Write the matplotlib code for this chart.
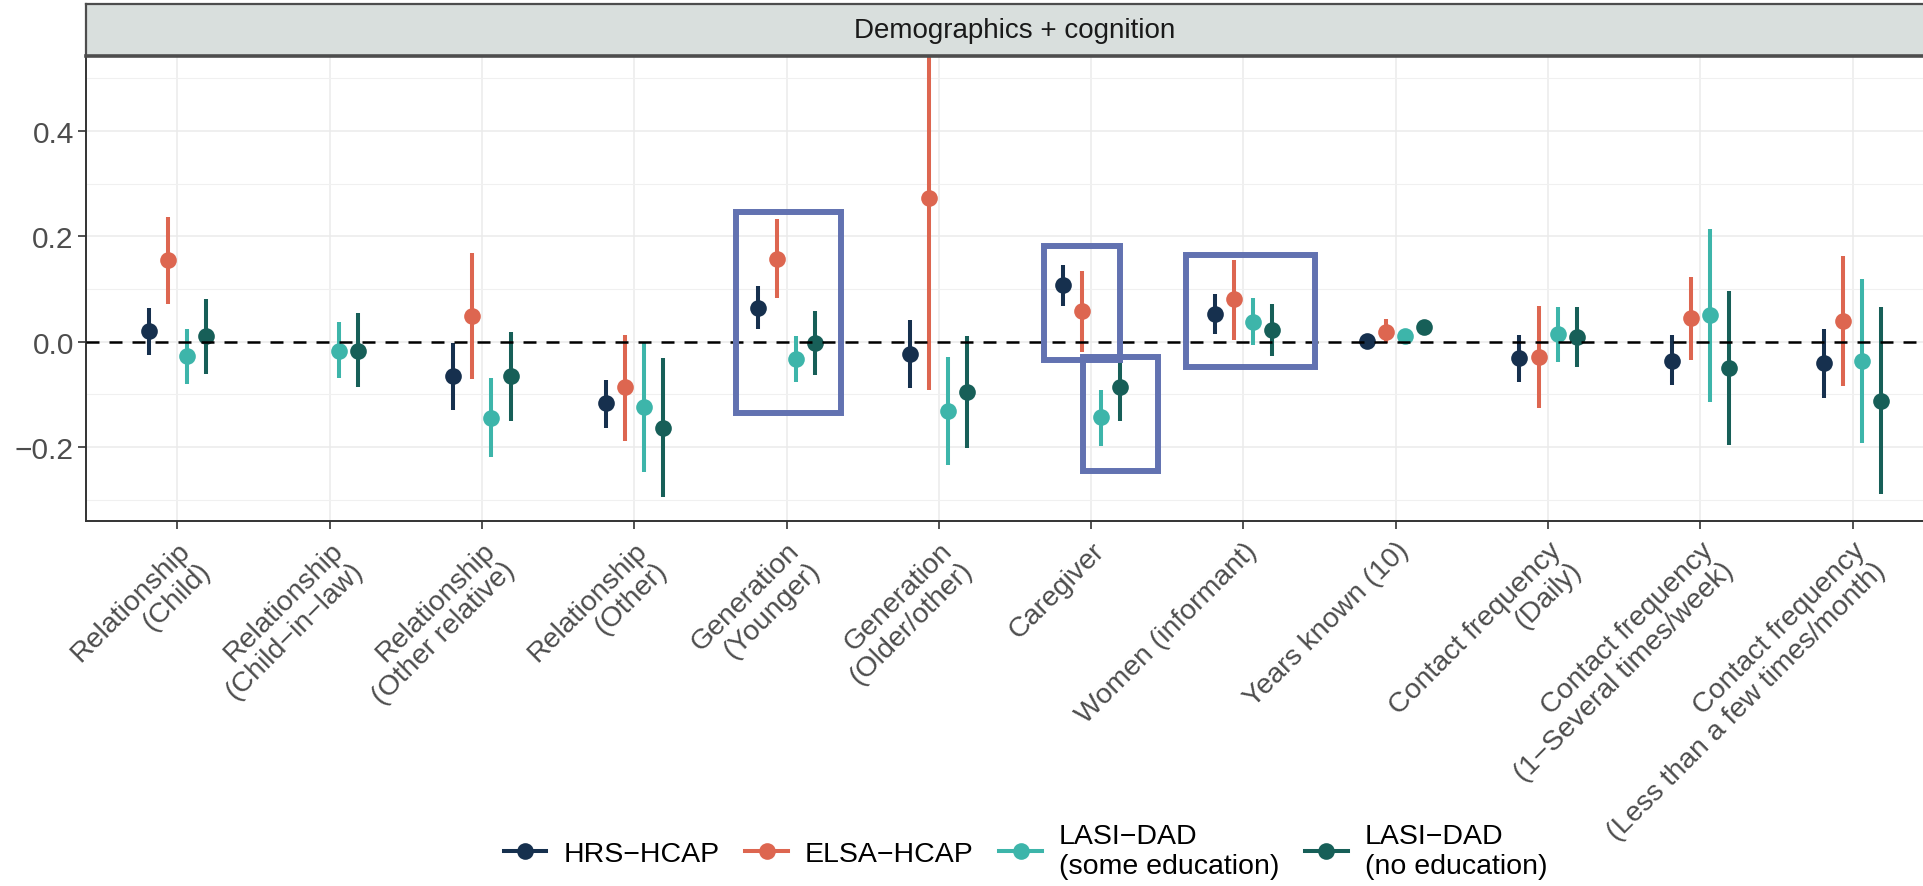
import numpy as np
import matplotlib.pyplot as plt
from matplotlib.lines import Line2D
from matplotlib.patches import Rectangle

plt.rcParams['font.family'] = ['Liberation Sans', 'DejaVu Sans']

categories = [
    'Relationship\n(Child)',
    'Relationship\n(Child\u2212in\u2212law)',
    'Relationship\n(Other relative)',
    'Relationship\n(Other)',
    'Generation\n(Younger)',
    'Generation\n(Older/other)',
    'Caregiver',
    'Women (informant)',
    'Years known (10)',
    'Contact frequency\n(Daily)',
    'Contact frequency\n(1\u2212Several times/week)',
    'Contact frequency\n(Less than a few times/month)',
]
studies = ['HRS\u2212HCAP', 'ELSA\u2212HCAP',
           'LASI\u2212DAD\n(some education)', 'LASI\u2212DAD\n(no education)']
colors = ['#16304e', '#dd6650', '#3db5aa', '#175f58']

nan = np.nan
# point estimates and 95% CI bounds, one list per study
hrs_est = [0.020, nan, -0.066, -0.117, 0.064, -0.024, 0.107, 0.053, 0.001, -0.032, -0.036, -0.041]
hrs_lo = [-0.025, nan, -0.130, -0.164, 0.024, -0.089, 0.068, 0.014, -0.004, -0.076, -0.083, -0.108]
hrs_hi = [0.064, nan, -0.003, -0.073, 0.105, 0.041, 0.146, 0.091, 0.006, 0.012, 0.012, 0.024]

elsa_est = [0.154, nan, 0.049, -0.087, 0.157, 0.273, 0.058, 0.080, 0.019, -0.030, 0.045, 0.039]
elsa_lo = [0.071, nan, -0.071, -0.188, 0.083, -0.091, -0.020, 0.003, -0.003, -0.127, -0.035, -0.085]
elsa_hi = [0.237, nan, 0.169, 0.012, 0.232, 0.640, 0.134, 0.154, 0.042, 0.068, 0.123, 0.162]

some_est = [-0.028, -0.017, -0.146, -0.125, -0.034, -0.132, -0.144, 0.037, 0.010, 0.014, 0.051, -0.037]
some_lo = [-0.080, -0.069, -0.220, -0.247, -0.077, -0.234, -0.198, -0.007, 0.004, -0.039, -0.114, -0.193]
some_hi = [0.024, 0.037, -0.069, -0.003, 0.010, -0.029, -0.091, 0.083, 0.016, 0.066, 0.213, 0.118]

none_est = [0.010, -0.017, -0.066, -0.164, -0.003, -0.096, -0.086, 0.022, 0.027, 0.008, -0.051, -0.112]
none_lo = [-0.061, -0.086, -0.150, -0.295, -0.064, -0.202, -0.150, -0.027, 0.020, -0.049, -0.196, -0.289]
none_hi = [0.080, 0.054, 0.019, -0.032, 0.058, 0.010, -0.032, 0.071, 0.034, 0.066, 0.096, 0.066]

est = [hrs_est, elsa_est, some_est, none_est]
lo = [hrs_lo, elsa_lo, some_lo, none_lo]
hi = [hrs_hi, elsa_hi, some_hi, none_hi]

# highlighted groups: (category index, dx left, dx right, y bottom, y top)
highlights = [
    (4, -0.33, 0.357, -0.135, 0.246),
    (6, -0.307, 0.19, -0.035, 0.181),
    (6, -0.053, 0.439, -0.246, -0.030),
    (7, -0.38, 0.47, -0.049, 0.165),
]

W, H = 1924, 887
fig = plt.figure(figsize=(W / 100, H / 100), dpi=100)

left, right, top, bottom = 86, 1944, 57, 521.7
ax = fig.add_axes([left / W, 1 - bottom / H, (right - left) / W, (bottom - top) / H])

x = np.arange(len(categories))
offsets = [-0.1875, -0.0625, 0.0625, 0.1875]

for k in range(4):
    xs = x + offsets[k]
    e = np.array(est[k])
    l = np.array(lo[k])
    h = np.array(hi[k])
    ok = ~np.isnan(e)
    ax.vlines(xs[ok], l[ok], h[ok], color=colors[k], lw=2.9, zorder=3)
    ax.plot(xs[ok], e[ok], 'o', color=colors[k], ms=12, mec='none', zorder=4)

ax.axhline(0, color='black', lw=1.8, dashes=(5.2, 4), zorder=5)

for ci, dx0, dx1, y0, y1 in highlights:
    ax.add_patch(Rectangle((ci + dx0, y0), dx1 - dx0, y1 - y0, fill=False,
                           ec='#6272b1', lw=4.3, zorder=6, clip_on=False))

ax.set_xlim(-0.6, 11.6)
ax.set_ylim(-0.34, 0.542)
ax.set_yticks([-0.2, 0.0, 0.2, 0.4])
ax.set_yticks([-0.3, -0.1, 0.1, 0.3, 0.5], minor=True)
ax.set_yticklabels(['\u22120.2', '0.0', '0.2', '0.4'])
ax.set_xticks(x)
ax.set_xticklabels(categories, rotation=45, ha='right', va='top',
                   rotation_mode='anchor', multialignment='right', linespacing=1.1)

ax.grid(True, which='major', color='#ebebeb', lw=1.1, zorder=0)
ax.grid(True, which='minor', axis='y', color='#f0f0f0', lw=0.8, zorder=0)
ax.set_axisbelow(True)

ax.tick_params(axis='both', which='major', length=5.8, width=1.2, color='#333333',
               labelcolor='#4d4d4d')
ax.tick_params(axis='x', labelsize=20.5, pad=6)
ax.tick_params(axis='y', labelsize=21.5, pad=3)
ax.tick_params(axis='y', which='minor', length=0)

for side in ['left', 'bottom']:
    ax.spines[side].set_color('#333333')
    ax.spines[side].set_linewidth(1.4)
ax.spines['top'].set_visible(False)
ax.spines['right'].set_visible(False)

# facet strip
strip = fig.add_axes([left / W, 1 - top / H, (right - left) / W, (top - 5.4) / H])
strip.set_facecolor('#d9dfdd')
strip.set_xticks([])
strip.set_yticks([])
for s in strip.spines.values():
    s.set_color('#4d4d4d')
    s.set_linewidth(1.6)
strip.spines['bottom'].set_linewidth(2.6)
strip.text(0.5, 0.5, 'Demographics + cognition', ha='center', va='center',
           fontsize=20, color='#1a1a1a', transform=strip.transAxes)

handles = [Line2D([], [], color=c, lw=2.9, marker='o', ms=12, mec='none') for c in colors]
fig.legend(handles, studies, loc='center', bbox_to_anchor=(1025.5 / W, 1 - 852 / H),
           ncol=4, frameon=False, fontsize=20.5, handlelength=1.5, handletextpad=0.6,
           columnspacing=0.9, labelspacing=0.2)

fig.savefig('out.png', dpi=100)
